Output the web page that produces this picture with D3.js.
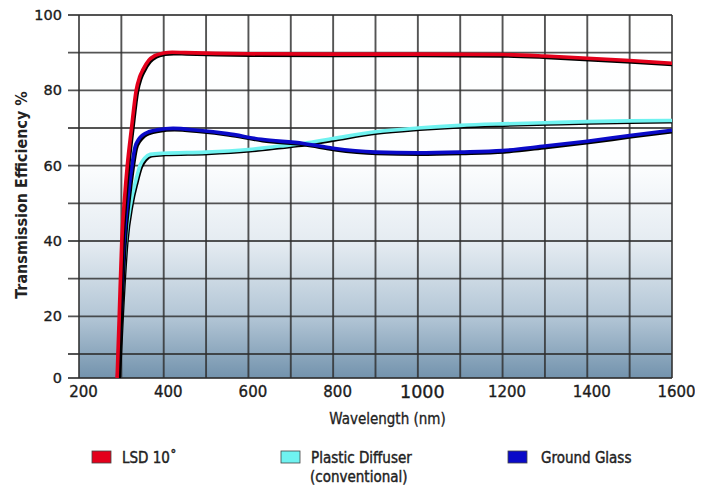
<!DOCTYPE html>
<html>
<head>
<meta charset="utf-8">
<script src="https://cdn.jsdelivr.net/npm/d3@7"></script>
<style>
body { margin: 0; background: #fff; }
svg { display: block; font-family: "DejaVu Sans Condensed", "DejaVu Sans", sans-serif; }
</style>
</head>
<body>
<div id="chart"></div>
<script>
// wavelength (nm) / transmission (%)
const lsdNm = [290, 295, 301, 308, 314, 324, 335, 343, 351, 365, 379, 400, 420, 450, 600, 800, 1000, 1200, 1300, 1400, 1500, 1600];
const lsdVal = [0, 20, 40, 52, 60, 70, 80, 83.5, 85.5, 88, 89.2, 89.9, 90.1, 90, 89.7, 89.6, 89.6, 89.5, 89.1, 88.5, 87.9, 87.2];

const plasticNm = [292, 299, 310, 322, 334, 344, 355, 368, 400, 500, 600, 675, 730, 800, 900, 1000, 1100, 1200, 1300, 1400, 1500, 1600];
const plasticVal = [0, 20, 40, 50, 56, 60, 62, 63, 63.3, 63.6, 64.3, 65.2, 65.9, 67.2, 69, 70, 70.7, 71.1, 71.4, 71.7, 71.9, 72];

const groundNm = [291, 298, 306, 316, 325, 332, 341, 351, 365, 384, 422, 480, 550, 630, 730, 800, 900, 1000, 1100, 1200, 1300, 1400, 1500, 1600];
const groundVal = [0, 22, 40, 52, 60, 64.8, 67, 68.2, 69, 69.5, 69.9, 69.4, 68.5, 67, 65.9, 64.6, 63.6, 63.4, 63.6, 64, 65.2, 66.5, 68, 69.4];

const seriesNames = ["LSD 10˚", "Plastic Diffuser", "Ground Glass"];
const seriesColors = ["#e3001b", "#6ff2f0", "#0a0ac8"];
const xTicks = [200, 400, 600, 800, 1000, 1200, 1400, 1600];
const yTicks = [0, 20, 40, 60, 80, 100];

const width = 712, height = 487;

const svg = d3.select("#chart").append("svg")
	.attr("width", width)
	.attr("height", height);

const x = d3.scaleLinear().domain([200, 1600]).range([79, 672]);
// bottom band of the original grid is squeezed, so the scale is piecewise
const y = d3.scaleLinear().domain([0, 10, 100]).range([378, 354, 15]);

const defs = svg.append("defs");
const grad = defs.append("linearGradient")
	.attr("id", "bg")
	.attr("gradientUnits", "userSpaceOnUse")
	.attr("x1", 0).attr("x2", 0)
	.attr("y1", y(100)).attr("y2", y(0));
[[0, "#ffffff"], [0.4, "#fdfeff"], [0.63, "#e4ebf1"], [0.83, "#b3c6d6"], [1, "#7393ad"]]
	.forEach(([o, c]) => grad.append("stop").attr("offset", o).attr("stop-color", c));

defs.append("clipPath").attr("id", "plot")
	.append("rect")
	.attr("x", x(200)).attr("y", y(100))
	.attr("width", x(1600) - x(200)).attr("height", y(0) - y(100));

// the original picture cuts the last tick label at its right edge
defs.append("clipPath").attr("id", "edge")
	.append("rect").attr("x", 0).attr("y", 0).attr("width", 691).attr("height", height);

svg.append("rect")
	.attr("x", x(200)).attr("y", y(100))
	.attr("width", x(1600) - x(200)).attr("height", y(0) - y(100))
	.attr("fill", "url(#bg)");

// grid
const grid = svg.append("g")
	.attr("stroke", "#2e2e2e")
	.attr("stroke-width", 1.9)
	.attr("stroke-opacity", 0.82);
grid.selectAll(".h")
	.data(d3.range(0, 101, 10))
	.join("line")
	.attr("x1", 68).attr("x2", x(1600))
	.attr("y1", d => y(d)).attr("y2", d => y(d));
grid.selectAll(".v")
	.data(d3.range(200, 1601, 100))
	.join("line")
	.attr("x1", d => x(d)).attr("x2", d => x(d))
	.attr("y1", y(100)).attr("y2", y(0));

// axes labels
const yAxis = svg.append("g")
	.attr("transform", `translate(${x(200)},0)`)
	.call(d3.axisLeft(y).tickValues(yTicks).tickSize(0).tickPadding(17));
yAxis.select(".domain").remove();
yAxis.selectAll("text")
	.attr("font-size", 14.5)
	.attr("font-family", "DejaVu Sans")
	.attr("fill", "#1c1c1c")
	.attr("stroke", "#1c1c1c")
	.attr("stroke-width", 0.35);

const xAxis = svg.append("g")
	.attr("transform", `translate(4,${y(0)})`)
	.attr("clip-path", "url(#edge)")
	.call(d3.axisBottom(x).tickValues(xTicks).tickFormat(d3.format("d")).tickSize(0).tickPadding(8));
xAxis.select(".domain").remove();
xAxis.selectAll("text")
	.attr("font-size", d => d === 1000 ? 17.5 : 15)
	.attr("font-family", "DejaVu Sans")
	.attr("fill", "#1c1c1c")
	.attr("stroke", "#1c1c1c")
	.attr("stroke-width", 0.35);

svg.append("text")
	.attr("transform", "translate(27,195) rotate(-90)")
	.attr("text-anchor", "middle")
	.attr("font-size", 16)
	.attr("font-weight", "bold")
	.attr("fill", "#222")
	.text("Transmission Efficiency %");

svg.append("text")
	.attr("x", (x(200) + x(1600)) / 2 + 12)
	.attr("y", 424)
	.attr("text-anchor", "middle")
	.attr("font-size", 15)
	.attr("fill", "#222")
	.attr("stroke", "#222")
	.attr("stroke-width", 0.3)
	.text("Wavelength (nm)");

// curves
const series = [
	{ name: seriesNames[1], color: seriesColors[1], pts: d3.zip(plasticNm, plasticVal) },
	{ name: seriesNames[2], color: seriesColors[2], pts: d3.zip(groundNm, groundVal) },
	{ name: seriesNames[0], color: seriesColors[0], pts: d3.zip(lsdNm, lsdVal) }
];

const line = d3.line()
	.x(d => x(d[0]))
	.y(d => y(d[1]))
	.curve(d3.curveMonotoneX);

const curves = svg.append("g").attr("clip-path", "url(#plot)");
series.forEach(s => {
	curves.append("path")
		.attr("d", line(s.pts))
		.attr("fill", "none")
		.attr("stroke", "#000")
		.attr("stroke-width", 3)
		.attr("transform", "translate(1.5,1.6)");
	curves.append("path")
		.attr("d", line(s.pts))
		.attr("fill", "none")
		.attr("stroke", s.color)
		.attr("stroke-width", 3.6);
});

// legend
const legendX = [92, 281, 508];
const legend = svg.append("g");
seriesNames.forEach((name, i) => {
	const g = legend.append("g").attr("transform", `translate(${legendX[i]},451)`);
	g.append("rect")
		.attr("width", 19).attr("height", 12)
		.attr("fill", seriesColors[i])
		.attr("stroke", "#444")
		.attr("stroke-width", 0.8);
	g.append("text")
		.attr("x", i === 2 ? 33 : 30)
		.attr("y", 12)
		.attr("font-size", 15)
		.attr("fill", "#222")
		.attr("stroke", "#222")
		.attr("stroke-width", 0.4)
		.text(name);
	if (i === 1) {
		g.append("text")
			.attr("x", 29)
			.attr("y", 31)
			.attr("font-size", 15)
			.attr("fill", "#222")
			.attr("stroke", "#222")
			.attr("stroke-width", 0.4)
			.text("(conventional)");
	}
});
</script>
</body>
</html>
